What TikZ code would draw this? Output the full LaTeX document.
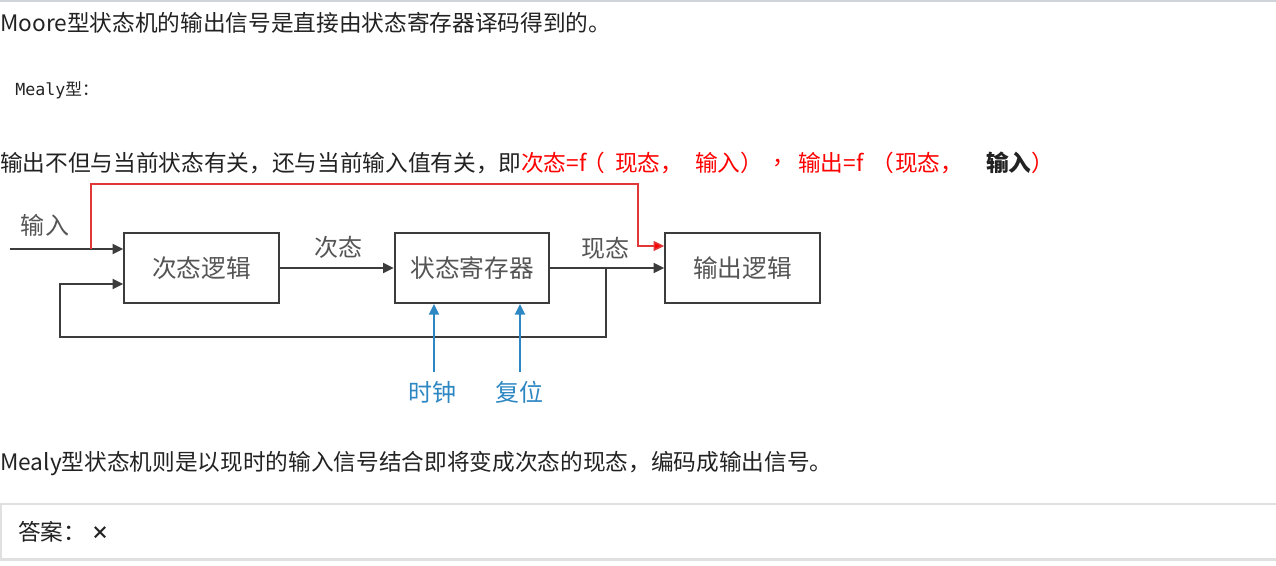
\documentclass[tikz,border=0pt]{standalone}
\usepackage{fontspec}
\setmainfont{Noto Sans CJK SC}
\newfontfamily\monof{DejaVu Sans Mono}
\usetikzlibrary{arrows.meta}
\definecolor{txt}{RGB}{34,34,34}
\definecolor{dgray}{RGB}{60,60,60}
\definecolor{lbl}{RGB}{85,85,85}
\definecolor{myred}{RGB}{255,0,0}
\definecolor{lred}{RGB}{225,55,55}
\definecolor{myblue}{RGB}{45,135,195}
\definecolor{bord}{RGB}{224,224,224}
\definecolor{topline}{RGB}{208,212,218}
\begin{document}
\begin{tikzpicture}[x=0.75pt,y=-0.75pt,
  para/.style={anchor=west, inner sep=0pt, text=txt, font=\fontsize{17pt}{20pt}\selectfont},
  redtxt/.style={para, text=myred},
  blk/.style={draw=dgray, line width=1.5pt, minimum width=116pt, minimum height=52.5pt, inner sep=0pt, text=lbl, font=\fontsize{18.5pt}{22pt}\selectfont},
  lab/.style={inner sep=0pt, text=lbl, font=\fontsize{18pt}{22pt}\selectfont},
  conn/.style={draw=dgray, line width=1.4pt, -{Triangle[length=8pt,width=7.5pt]}},
  redconn/.style={draw=lred, line width=1.2pt, -{Triangle[length=8pt,width=7.5pt,fill=myred]}},
  blueconn/.style={draw=myblue, line width=1.4pt, -{Triangle[length=8pt,width=7.5pt]}}]
\useasboundingbox (0,0) rectangle (1276,566);
\fill[white] (0,0) rectangle (1276,566);
% top rule
\draw[topline, line width=1.2pt] (0,0.8) -- (1276,0.8);
% paragraphs
\node[para] (p1) at (0,23) {Moore型状态机的输出信号是直接由状态寄存器译码得到的。};
\node[anchor=west, inner sep=0pt, text=txt, font=\fontsize{12.5pt}{15pt}\selectfont] (p2) at (15,90) {{\monof Mealy}型：};
\node[para] (p3) at (0,163) {输出不但与当前状态有关，还与当前输入值有关，即};
\node[redtxt] (p3a) at (521,163) {次态=f};
\node[redtxt] (p3b) at (582,163) {（};
\node[redtxt] (p3c) at (615,163) {现态，};
\node[redtxt] (p3d) at (695,163) {输入）};
\node[redtxt] (p3e) at (772,163) {，};
\node[redtxt] (p3f) at (798,163) {输出=f};
\node[redtxt] (p3g) at (871,163) {（};
\node[redtxt] (p3h) at (895,163) {现态，};
\node[para] (p3i) at (986,163) {\textbf{输入}\textcolor{myred}{）}};
\node[para] (p5) at (0,464) {Mealy型状态机则是以现时的输入信号结合即将变成次态的现态，编码成输出信号。};
% answer box
\draw[bord, line width=1.6pt] (1276,504) -- (0.8,504) -- (0.8,559.5) -- (1276,559.5);
\node[para] (ans) at (18,532) {答案：};
\node[para, font=\fontsize{13.5pt}{15pt}\selectfont] (x) at (91,533) {\textbf{×}};
% diagram blocks
\node[blk] (b1) at (201.5,268) {次态逻辑};
\node[blk] (b2) at (472,268) {状态寄存器};
\node[blk] (b3) at (742.5,268) {输出逻辑};
% labels
\node[lab] (lin) at (45,225) {输入};
\node[lab] (lns) at (338,247) {次态};
\node[lab] (lps) at (605,248) {现态};
\node[lab, text=myblue] (lclk) at (432,392) {时钟};
\node[lab, text=myblue] (lrst) at (519,392) {复位};
% coordinates
\coordinate (in) at (10,249);
\coordinate (rj) at (91,249);
\coordinate (rt) at (638,184);
\coordinate (rin) at (638,246);
\coordinate (tap) at (606,268);
\coordinate (fbl) at (60,337);
\coordinate (fbin) at (60,284);
\coordinate (clk) at (434,372);
\coordinate (rst) at (520,372);
% connectors
\draw[conn] (in) -- (b1.west |- in);
\draw[conn] (b1) -- (b2);
\draw[conn] (b2) -- (b3);
\draw[conn] (tap) |- (fbl) -- (fbin) -- (b1.west |- fbin);
\draw[redconn] (rj) |- (rt) -- (rin) -- (b3.west |- rin);
\draw[blueconn] (clk) -- (clk |- b2.south);
\draw[blueconn] (rst) -- (rst |- b2.south);
\end{tikzpicture}
\end{document}
